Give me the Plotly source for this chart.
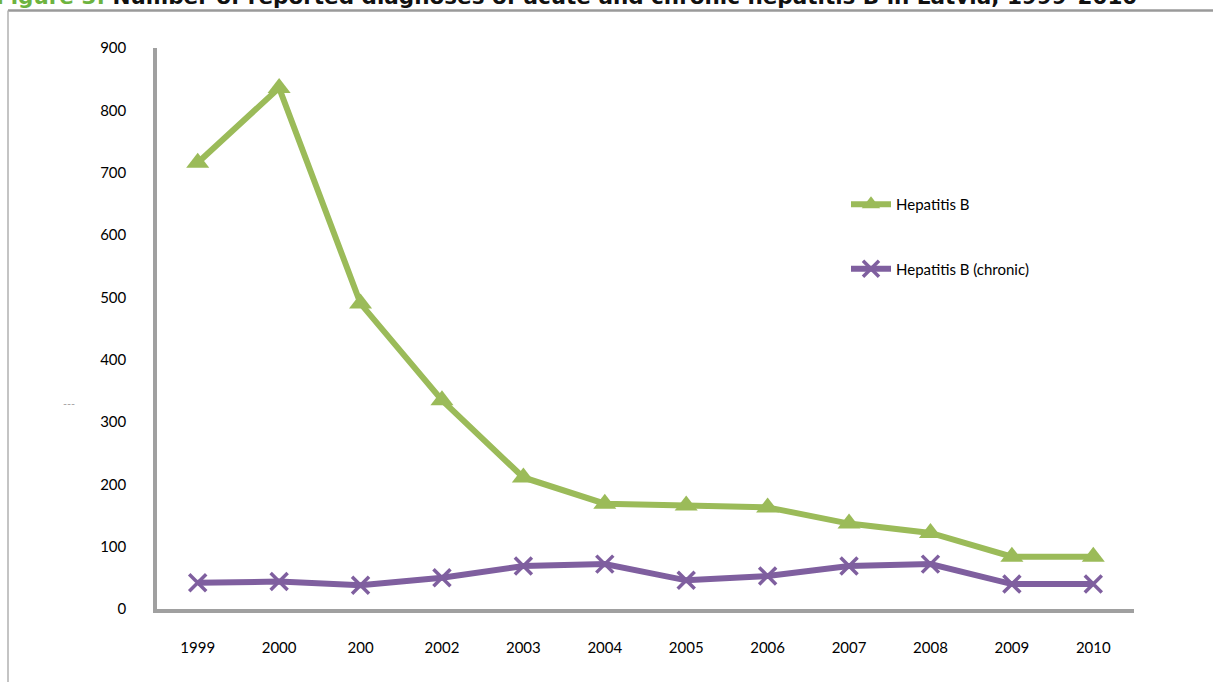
import plotly.graph_objects as go

years = ["1999", "2000", "2001", "2002", "2003", "2004", "2005", "2006", "2007", "2008", "2009", "2010"]
tick_labels = ["1999", "2000", "200", "2002", "2003", "2004", "2005", "2006", "2007", "2008", "2009", "2010"]
hep_b = [716, 836, 490, 335, 211, 169, 166, 163, 137, 122, 84, 84]
hep_b_chronic = [42, 44, 38, 50, 69, 72, 46, 53, 69, 72, 40, 40]

GREEN = "#9BBB59"
PURPLE = "#7F5F9F"
AXIS_GREY = "#A0A0A0"
FONT = "Lato, Carlito, Calibri, sans-serif"

W, H = 1213, 682
L, R, T, B = 157, 79, 48, 73
PW, PH = W - L - R, H - T - B


def px_x(x):
    return (x - L) / PW


def px_y(y):
    return (H - B - y) / PH


fig = go.Figure()
fig.add_trace(go.Scatter(
    x=years, y=hep_b, name="Hepatitis B", mode="lines+markers",
    line=dict(color=GREEN, width=6),
    marker=dict(symbol="triangle-up", size=20, color=GREEN),
    legendgroup="a",
))
fig.add_trace(go.Scatter(
    x=years, y=hep_b_chronic, name="Hepatitis B (chronic)", mode="lines+markers",
    line=dict(color=PURPLE, width=6),
    marker=dict(symbol="x-thin", size=17, color=PURPLE, line=dict(color=PURPLE, width=3.5)),
    legendgroup="b",
))

# outer chart frame (top and left edges visible)
fig.add_shape(type="line", xref="paper", yref="paper",
              x0=px_x(8), x1=px_x(1230), y0=px_y(10.5), y1=px_y(10.5),
              line=dict(color="#9A9A9A", width=2.5))
fig.add_shape(type="line", xref="paper", yref="paper",
              x0=px_x(8), x1=px_x(8), y0=px_y(10.5), y1=px_y(700),
              line=dict(color="#B0B0B0", width=1.5))

# title
fig.add_annotation(
    xref="paper", yref="paper", x=px_x(-6), y=px_y(11), xanchor="left", yanchor="bottom",
    text="<b><span style='color:#6DB33F'>Figure 3:</span> Number of reported diagnoses of acute and chronic hepatitis B in Latvia, 1999–2010</b>",
    showarrow=False, font=dict(family="DejaVu Sans", size=21.5, color="#111111"),
)
# collapsed y-axis title
fig.add_annotation(
    xref="paper", yref="paper", x=px_x(69), y=px_y(404), xanchor="center", yanchor="middle",
    text="–––", showarrow=False, font=dict(family=FONT, size=7, color="#666666"),
)

fig.update_layout(
    width=W, height=H,
    margin=dict(l=L, r=R, t=T, b=B, pad=0),
    paper_bgcolor="white", plot_bgcolor="white",
    font=dict(family=FONT, size=15, color="#000000"),
    showlegend=True,
    legend=dict(
        x=px_x(846), y=px_y(188), xanchor="left", yanchor="top",
        traceorder="grouped", tracegroupgap=42,
        font=dict(family=FONT, size=15, color="#000000"),
        bgcolor="rgba(0,0,0,0)", itemwidth=40,
    ),
    xaxis=dict(
        type="category", categoryorder="array", categoryarray=years,
        tickvals=years, ticktext=tick_labels,
        range=[-0.5, 11.5], showgrid=False, zeroline=False,
        showline=True, linecolor=AXIS_GREY, linewidth=3.5,
        ticks="", ticklabelstandoff=22,
    ),
    yaxis=dict(
        range=[0, 900], tickvals=[0, 100, 200, 300, 400, 500, 600, 700, 800, 900],
        showgrid=False, zeroline=False,
        showline=True, linecolor=AXIS_GREY, linewidth=3.5,
        ticks="", ticklabelstandoff=24,
    ),
)

fig.write_html("out.html")
